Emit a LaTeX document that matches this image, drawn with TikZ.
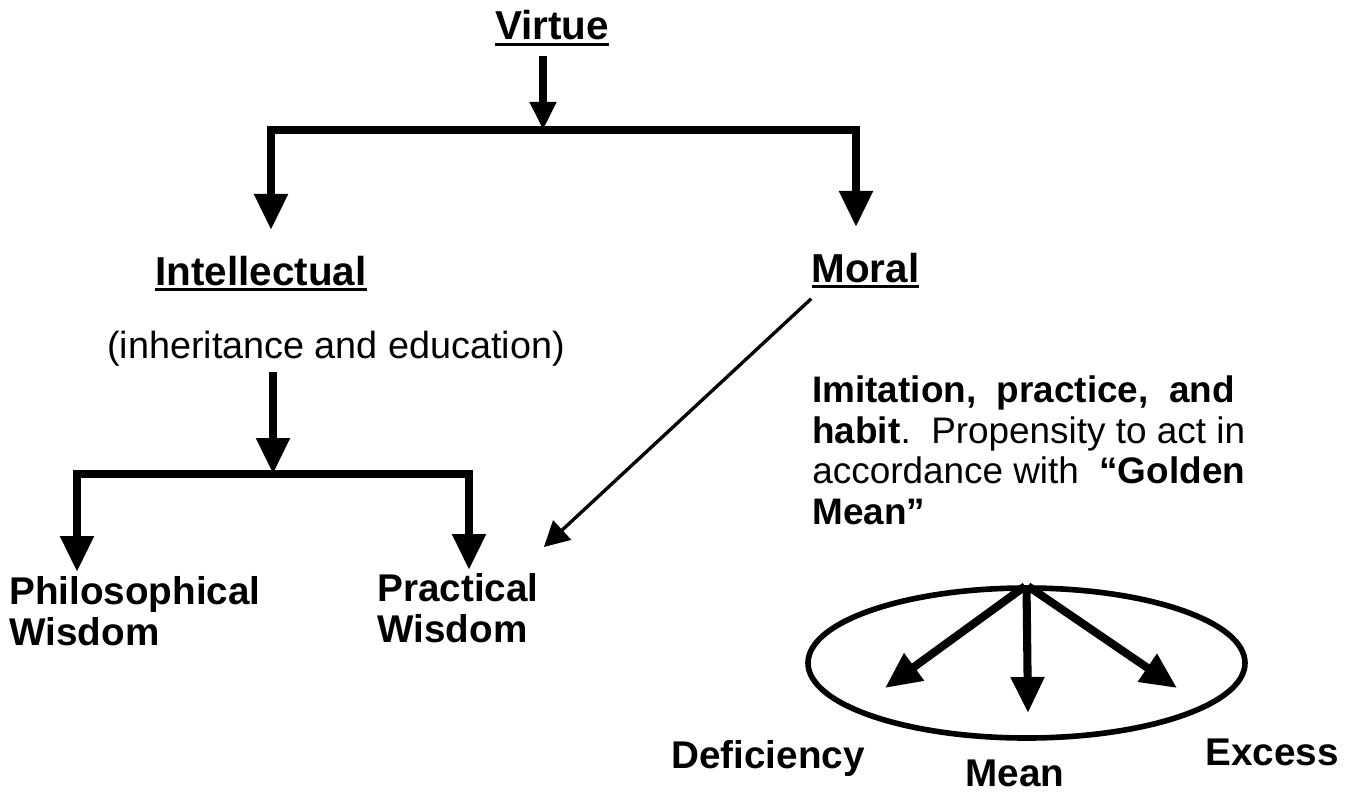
\documentclass[tikz,border=0pt]{standalone}
\usepackage{fontspec}
\setmainfont{Liberation Sans}
\usetikzlibrary{arrows.meta,shapes.geometric}
\newcommand{\ulword}[1]{\setbox0=\hbox{#1}\rlap{\rule[-3.6pt]{\wd0}{1.7pt}}\box0}
\begin{document}
\begin{tikzpicture}[
  headtxt/.style={inner sep=0pt, font=\bfseries\fontsize{23}{25}\selectfont},
  wordtxt/.style={inner sep=0pt, align=left, font=\bfseries\fontsize{22}{23.3}\selectfont},
  poletxt/.style={inner sep=0pt, font=\bfseries\fontsize{22}{24}\selectfont},
  plaintxt/.style={inner sep=0pt, font=\fontsize{21.5}{24}\selectfont},
  paratxt/.style={inner sep=0pt, align=left, font=\fontsize{21}{23.3}\selectfont},
  goldring/.style={ellipse, draw, line width=3.2pt, inner sep=0pt, minimum width=8.74cm, minimum height=3cm},
  bigarrow/.style={line width=4.6pt, -{Triangle[width=0.64cm,length=0.72cm]}},
  topstem/.style={line width=4pt, -{Triangle[width=0.5cm,length=0.56cm]}},
  thinarrow/.style={line width=1.9pt, -{Triangle[width=0.52cm,length=0.5cm]}}
]
  \path[fill=white, use as bounding box] (0,0) rectangle (27.02,-15.94);
  \node[headtxt, anchor=base] (virtue) at (11.04,-0.8) {\ulword{Virtue}};
  \node[headtxt, anchor=base] (intel) at (5.22,-5.7) {\ulword{Intellectual}};
  \node[headtxt, anchor=base] (moral) at (17.31,-5.64) {\ulword{Moral}};
  \node[plaintxt, anchor=base] (inherit) at (6.72,-7.16) {(inheritance and education)};
  \node[wordtxt, anchor=north west] (phil) at (0.18,-11.52) {Philosophical\\Wisdom};
  \node[wordtxt, anchor=north west] (prac) at (7.54,-11.46) {Practical\\Wisdom};
  \node[paratxt, anchor=north west] (habit) at (16.24,-7.5) {\textbf{Imitation,\ \ practice,\ \ and}\\
    \textbf{habit}.\ \ Propensity to act in\\
    accordance with\ \ \textbf{“Golden}\\
    \textbf{Mean”}};
  \node[goldring] (gm) at (20.53,-13.26) {};
  \node[poletxt, anchor=base] (defic) at (15.36,-15.36) {Deficiency};
  \node[poletxt, anchor=base] (mean) at (20.3,-15.72) {Mean};
  \node[poletxt, anchor=base] (excess) at (25.44,-15.3) {Excess};
  \coordinate (vsplit) at (10.86,-2.6);
  \coordinate (intelTip) at (5.42,-4.6);
  \coordinate (moralTip) at (17.12,-4.54);
  \coordinate (isplit) at (5.46,-9.48);
  \coordinate (philTip) at (1.54,-11.44);
  \coordinate (pracTip) at (9.38,-11.4);
  \coordinate (defTip) at (17.7,-13.76);
  \coordinate (meanTip) at (20.56,-14.26);
  \coordinate (excTip) at (23.54,-13.76);
  \draw[topstem, shorten <=0.18cm] (virtue.south -| vsplit) -- (vsplit);
  \draw[bigarrow] (vsplit) -| (intelTip);
  \draw[bigarrow] (vsplit) -| (moralTip);
  \draw[bigarrow, shorten <=0.12cm] (inherit.south -| isplit) -- (isplit);
  \draw[bigarrow] (isplit) -| (philTip);
  \draw[bigarrow] (isplit) -| (pracTip);
  \draw[thinarrow] ([yshift=-0.2cm]moral.south west) -- ([xshift=0.1cm,yshift=0.52cm]prac.north east);
  \draw[bigarrow, shorten <=1pt] (gm.north) -- (defTip);
  \draw[bigarrow, shorten <=1pt] (gm.north) -- (meanTip);
  \draw[bigarrow, shorten <=1pt] (gm.north) -- (excTip);
\end{tikzpicture}
\end{document}
